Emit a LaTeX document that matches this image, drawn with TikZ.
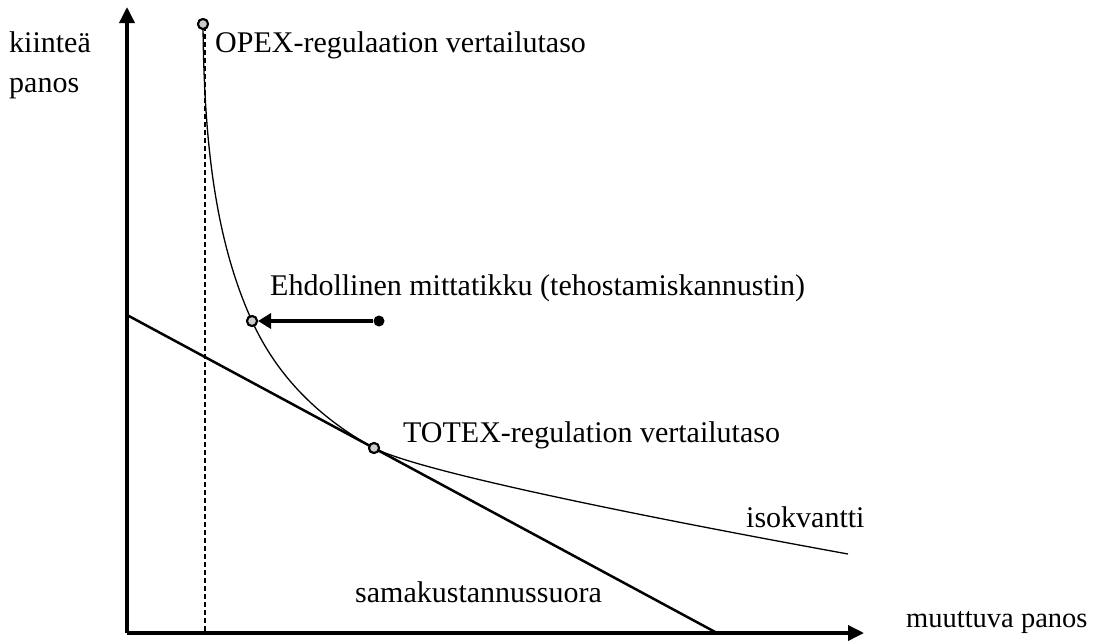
\documentclass[tikz,border=0pt]{standalone}
\usepackage{fontspec}
\setmainfont{Liberation Serif}
\usetikzlibrary{arrows.meta}
\tikzset{lbl/.style={font=\fontsize{30}{30}\selectfont, inner sep=0pt, anchor=base west}}
\tikzset{opt/.style={circle, draw, fill=black!20, line width=2pt, inner sep=0pt, minimum size=10pt}}
\tikzset{axis/.style={line width=3.5pt, -{Triangle[length=16pt,width=15pt]}}}
\begin{document}
\begin{tikzpicture}[x=1pt, y=-1pt]
        \useasboundingbox (0,0) rectangle (1094,643);
        % axes
        \coordinate (O) at (127,633);
        \coordinate (ytop) at (127,7);
        \coordinate (xend) at (864,633);
        \draw [axis] (O) -- (ytop);
        \draw [axis] (O) -- (xend);
        \node [lbl] (yl1) at (9,52) {kiinteä};
        \node [lbl] (yl2) at (9,92) {panos};
        \node [lbl, font=\fontsize{28.5}{28.5}\selectfont] (xl) at (906,627) {muuttuva panos};
        % dashed line
        \coordinate (dtop) at (205,26);
        \coordinate (dbot) at (205,633);
        \draw [line width=2pt, dash pattern=on 5pt off 3pt] (dtop) -- (dbot);
        % cost line
        \coordinate (cA) at (127,315);
        \coordinate (cB) at (717,633);
        \draw [line width=2.5pt] (cA) -- (cB);
        % points
        \node [opt] (opex) at (203,24) {};
        \node [opt] (mitta) at (252,321) {};
        \node [circle, fill, inner sep=0pt, minimum size=11pt] (dot) at (379,321) {};
        \node [opt] (totex) at (374,448) {};
        \coordinate (isoend) at (848,554);
        % isoquant
        \draw [line width=1.3pt] (opex.center) .. controls (204,150) and (217,244) .. (mitta.center)
          .. controls (277,376) and (319,418) .. (totex.center)
          .. controls (420,472) and (650,518) .. (isoend);
        \node [opt] at (opex) {};
        \node [opt] at (mitta) {};
        \node [opt] at (totex) {};
        % arrow
        \draw [line width=3.5pt, -{Triangle[length=13pt,width=15pt]}] (dot) -- (mitta);
        % labels
        \node [lbl] (opexl) at (215,52) {OPEX-regulaation vertailutaso};
        \node [lbl] (mittal) at (270,295) {Ehdollinen mittatikku (tehostamiskannustin)};
        \node [lbl] (totexl) at (403,442) {TOTEX-regulation vertailutaso};
        \node [lbl] (isol) at (746,527) {isokvantti};
        \node [lbl] (costl) at (355,602) {samakustannussuora};
\end{tikzpicture}
\end{document}
